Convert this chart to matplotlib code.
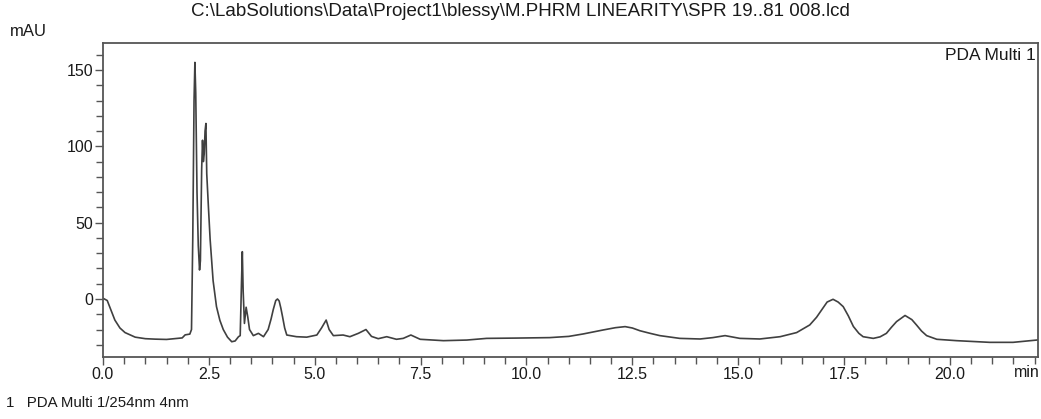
import numpy as np
import matplotlib.pyplot as plt
from matplotlib.ticker import MultipleLocator

# Хроматограмма, точки (время, мин / сигнал, mAU)
time_min = [
    0.00, 0.10, 0.28, 0.40, 0.52, 0.76, 1.00, 1.23, 1.50, 1.87, 1.94, 2.05,
    2.09, 2.12, 2.15, 2.17, 2.19, 2.22, 2.25, 2.28, 2.30, 2.33, 2.35, 2.37,
    2.39, 2.41, 2.43, 2.45, 2.49, 2.53, 2.60, 2.68, 2.76, 2.84, 2.94, 3.04,
    3.12, 3.20, 3.24, 3.27, 3.29, 3.31, 3.34, 3.38, 3.42, 3.46, 3.55, 3.67,
    3.79, 3.90, 3.97, 4.02, 4.08, 4.12, 4.16, 4.20, 4.24, 4.29, 4.34, 4.57,
    4.81, 5.05, 5.16, 5.27, 5.34, 5.44, 5.67, 5.83, 6.03, 6.21, 6.34, 6.50,
    6.70, 6.93, 7.09, 7.27, 7.49, 8.04, 8.59, 9.06, 9.77, 10.55, 11.00,
    11.34, 11.81, 12.10, 12.33, 12.50, 12.68, 12.92, 13.15, 13.62, 14.10,
    14.40, 14.69, 15.04, 15.51, 15.99, 16.38, 16.69, 16.85, 16.97, 17.10,
    17.24, 17.36, 17.48, 17.60, 17.72, 17.85, 17.95, 18.19, 18.35, 18.50,
    18.62, 18.74, 18.94, 19.10, 19.21, 19.33, 19.45, 19.69, 20.16, 20.94,
    21.49, 22.05, 22.10,
]
signal_mau = [
    0.5, -1.0, -13.8, -19.0, -22.0, -25.0, -26.0, -26.3, -26.5, -25.5, -23.5, -23.0,
    -20.0, 40.0, 130.0, 155.0, 135.0, 70.0, 35.0, 19.0, 25.0, 85.0, 104.0, 90.0,
    95.0, 110.0, 115.0, 82.0, 60.0, 39.0, 12.0, -5.0, -14.0, -20.0, -25.0, -28.0,
    -27.5, -24.7, -24.0, 10.0, 31.0, 5.0, -16.0, -5.4, -12.0, -20.0, -24.0, -22.5,
    -24.7, -20.0, -13.0, -7.0, -1.0, 0.0, -1.3, -6.0, -11.6, -19.0, -23.6, -24.7,
    -25.0, -23.6, -19.0, -13.8, -20.0, -24.0, -23.6, -24.7, -22.5, -20.0, -24.5, -26.0,
    -24.7, -26.4, -25.8, -23.6, -26.4, -27.3, -26.9, -25.8, -25.6, -25.3, -24.5,
    -22.9, -20.3, -18.8, -18.1, -19.0, -20.8, -22.5, -24.0, -25.8, -26.2,
    -25.3, -24.0, -25.8, -26.2, -24.7, -22.0, -17.0, -12.0, -7.2, -2.0,
    -0.2, -2.0, -5.0, -11.0, -18.0, -22.5, -24.7, -25.8, -24.8, -22.5,
    -18.5, -14.8, -10.8, -13.5, -17.0, -21.0, -24.0, -26.4, -27.3, -28.4,
    -28.4, -26.9, -26.7,
]

title = r"C:\LabSolutions\Data\Project1\blessy\M.PHRM LINEARITY\SPR 19..81 008.lcd"

plt.rcParams['font.family'] = ['Liberation Sans', 'DejaVu Sans']

fig = plt.figure(figsize=(10.41, 4.19), dpi=100)
ax = fig.add_axes([103 / 1041, 62 / 419, 935 / 1041, 314 / 419])

ax.plot(time_min, signal_mau, color='#404040', linewidth=1.2)

ax.set_xlim(0, 22.08)
ax.set_ylim(-38, 167.7)

ax.xaxis.set_major_locator(MultipleLocator(2.5))
ax.xaxis.set_minor_locator(MultipleLocator(0.5))
ax.yaxis.set_major_locator(MultipleLocator(50))
ax.yaxis.set_minor_locator(MultipleLocator(10))
ax.xaxis.set_major_formatter(plt.FuncFormatter(lambda v, p: f"{v:.1f}"))
ax.yaxis.set_major_formatter(plt.FuncFormatter(lambda v, p: f"{v:.0f}"))

for side in ['left', 'bottom', 'top', 'right']:
    ax.spines[side].set_color('#555555')
    ax.spines[side].set_linewidth(1.3)

ax.tick_params(which='both', direction='out', color='#555555', width=1.0,
               labelsize=11.5, labelcolor='#1a1a1a')
ax.tick_params(which='major', length=6, pad=1)
ax.tick_params(which='minor', length=5)

txt = dict(color='#1a1a1a')
fig.text(0.5, 1 - 12 / 419, title, ha='center', va='center', fontsize=13.5, **txt)
fig.text(10 / 1041, 1 - 32 / 419, "mAU", ha='left', va='center', fontsize=12, **txt)
fig.text(1040 / 1041, 1 - 372 / 419, "min", ha='right', va='center', fontsize=11.5, **txt)
ax.text(0.998, 0.985, "PDA Multi 1", transform=ax.transAxes, ha='right', va='top',
        fontsize=12.5, **txt)
fig.text(6 / 1041, 1 - 403 / 419, "1   PDA Multi 1/254nm 4nm", ha='left', va='center',
         fontsize=10.8, **txt)

fig.savefig('out.png', dpi=100)
